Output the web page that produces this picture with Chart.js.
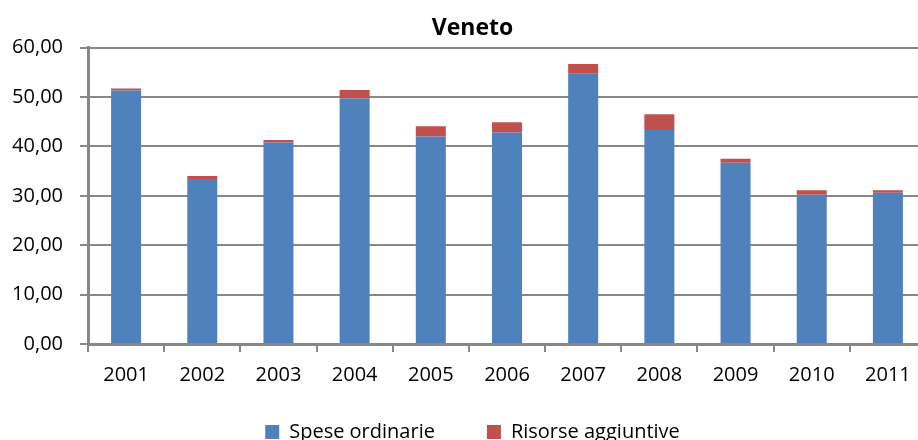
<!DOCTYPE html>
<html>
<head>
<meta charset="utf-8">
<script src="https://cdn.jsdelivr.net/npm/chart.js@4.4.0/dist/chart.umd.min.js"></script>
<style>
html, body { margin:0; padding:0; background:#fff; overflow:hidden; }
#wrap { width:918px; height:440px; overflow:hidden; position:relative; }
</style>
</head>
<body>
<div id="wrap"><canvas id="myChart" width="945" height="498"></canvas></div>
<script>
// dati
var anni = ["2001","2002","2003","2004","2005","2006","2007","2008","2009","2010","2011"];
var speseOrdinarie = [51.3, 33.4, 40.8, 49.7, 42.0, 42.8, 54.7, 43.3, 36.7, 30.2, 30.6];
var risorseAggiuntive = [0.4, 0.6, 0.5, 1.7, 2.1, 2.1, 2.0, 3.2, 0.8, 0.9, 0.5];
var yMin = 0, yMax = 60, yStep = 10;

var fontName = "'Open Sans', sans-serif";
var grigio = "#878787";

// sposta la legenda subito sotto le etichette e libera il margine sinistro per i tick
var sistemaLayout = {
    id: "sistemaLayout",
    afterLayout: function(chart) {
        var lg = chart.legend;
        var h = lg.bottom - lg.top;
        lg.top = 370;
        lg.bottom = 370 + h;
        chart.scales.y.left = 0;
    }
};

var ctx = document.getElementById("myChart").getContext("2d");
var myChart = new Chart(ctx, {
    type: "bar",
    data: {
        labels: anni,
        datasets: [
            {
                label: "Spese ordinarie",
                data: speseOrdinarie,
                backgroundColor: "#4F81BD",
                barPercentage: 0.394,
                categoryPercentage: 1
            },
            {
                label: "Risorse aggiuntive",
                data: risorseAggiuntive,
                backgroundColor: "#C0504D",
                barPercentage: 0.394,
                categoryPercentage: 1
            }
        ]
    },
    plugins: [sistemaLayout],
    options: {
        responsive: false,
        animation: false,
        devicePixelRatio: 1,
        layout: { padding: { left: 19, right: 19, top: 0, bottom: 0 } },
        plugins: {
            title: {
                display: true,
                text: "Veneto",
                color: "#000",
                font: { family: fontName, size: 23, weight: "bold" },
                padding: { top: 15, bottom: 5 }
            },
            legend: {
                position: "bottom",
                labels: {
                    boxWidth: 14,
                    boxHeight: 14,
                    color: "#000",
                    font: { family: fontName, size: 20 },
                    padding: 52
                }
            },
            tooltip: { enabled: false }
        },
        scales: {
            x: {
                stacked: true,
                grid: { offset: true, drawOnChartArea: false, color: grigio, lineWidth: 2, tickLength: 8 },
                border: { color: grigio, width: 3 },
                ticks: { color: "#000", font: { family: fontName, size: 20 }, padding: 11 },
                afterFit: function(s) { s.height = 72; }
            },
            y: {
                stacked: true,
                min: yMin,
                max: yMax,
                ticks: {
                    stepSize: yStep,
                    color: "#000",
                    font: { family: fontName, size: 20 },
                    padding: 17,
                    callback: function(v) { return v.toFixed(2).replace(".", ","); }
                },
                grid: { color: grigio, lineWidth: 2, tickLength: 8 },
                border: { color: grigio, width: 3 },
                afterFit: function(s) { s.width = 69; }
            }
        }
    }
});
</script>
</body>
</html>
